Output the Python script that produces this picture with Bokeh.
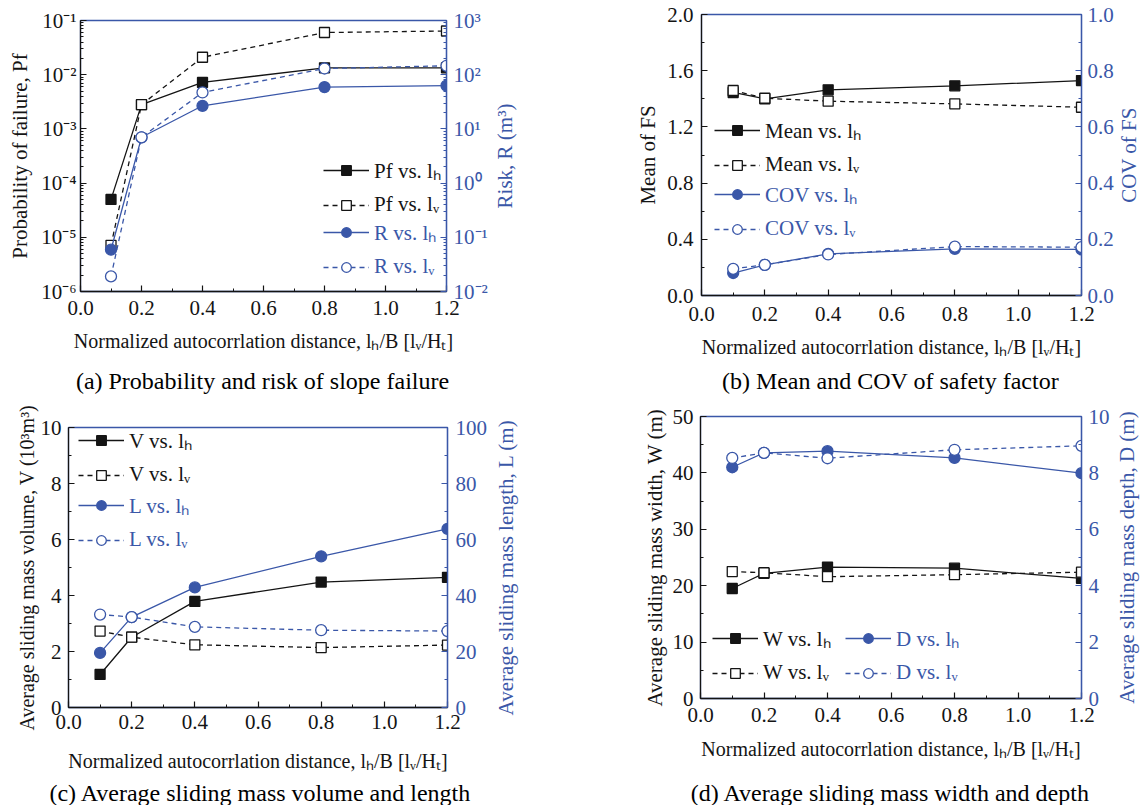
import math
from bokeh.plotting import figure
from bokeh.models import (Range1d, LinearAxis, LogAxis, LogScale, FixedTicker, Label,
                          PrintfTickFormatter, CustomJSTickFormatter, Legend, LegendItem)
from bokeh.layouts import row, column
from bokeh.embed import file_html
from bokeh.resources import INLINE

# ---------------- data ----------------
x_vals = [0.1, 0.2, 0.4, 0.8, 1.2]

pf_lh = [5.0e-5, 2.8e-3, 7.2e-3, 1.34e-2, 1.34e-2]
pf_lv = [7.1e-6, 2.8e-3, 2.1e-2, 6.0e-2, 6.4e-2]
risk_lh = [0.059, 7.0, 26.7, 59.0, 63.0]
risk_lv = [0.019, 7.0, 47.0, 130.0, 146.0]

mean_lh = [1.445, 1.400, 1.464, 1.492, 1.530]
mean_lv = [1.459, 1.404, 1.383, 1.364, 1.340]
cov_lh = [0.080, 0.109, 0.148, 0.166, 0.164]
cov_lv = [0.095, 0.109, 0.146, 0.174, 0.172]

vol_lh = [1.18, 2.51, 3.79, 4.48, 4.65]
vol_lv = [2.73, 2.51, 2.24, 2.14, 2.23]
len_lh = [19.5, 32.3, 42.9, 54.0, 63.8]
len_lv = [33.2, 32.3, 28.8, 27.6, 27.3]

wid_lh = [19.5, 22.2, 23.3, 23.1, 21.3]
wid_lv = [22.5, 22.3, 21.6, 21.95, 22.4]
dep_lh = [8.20, 8.71, 8.77, 8.53, 7.99]
dep_lv = [8.53, 8.71, 8.52, 8.82, 8.96]

x_ticks = [0.0, 0.2, 0.4, 0.6, 0.8, 1.0, 1.2]
x_minor = [0.1, 0.3, 0.5, 0.7, 0.9, 1.1]
pf_ticks = [1e-6, 1e-5, 1e-4, 1e-3, 1e-2, 1e-1]
risk_ticks = [1e-2, 1e-1, 1e0, 1e1, 1e2, 1e3]
mean_ticks = [0.0, 0.4, 0.8, 1.2, 1.6, 2.0]
cov_ticks = [0.0, 0.2, 0.4, 0.6, 0.8, 1.0]
vol_ticks = [0, 2, 4, 6, 8, 10]
len_ticks = [0, 20, 40, 60, 80, 100]
wid_ticks = [0, 10, 20, 30, 40, 50]
dep_ticks = [0, 2, 4, 6, 8, 10]

x_label = "Normalized autocorrlation distance, lₕ/B [lᵥ/Hₜ]"

BLUE = "#3A57A8"
BLACK = "#141414"
FONT = "Liberation Serif"


def log_minor(ticks):
    out = []
    for t in ticks[:-1]:
        for m in range(2, 10):
            out.append(t * m)
    return out


def lin_minor(ticks):
    return [(ticks[i] + ticks[i + 1]) / 2 for i in range(len(ticks) - 1)]


LOG_FMT = CustomJSTickFormatter(code="""
const sup = {"-":"\u207b","0":"\u2070","1":"\u00b9","2":"\u00b2","3":"\u00b3","4":"\u2074",
             "5":"\u2075","6":"\u2076","7":"\u2077","8":"\u2078","9":"\u2079"};
const e = Math.round(Math.log10(tick));
return "10" + String(e).split("").map(c => sup[c]).join("");
""")


def style_axis(ax, color, ticks, minor, fmt, label, standoff, label_standoff, lsize="21px"):
    ax.ticker = FixedTicker(ticks=ticks, minor_ticks=minor)
    ax.formatter = fmt
    ax.axis_label = label
    ax.axis_line_color = color
    ax.axis_line_width = 1.3
    ax.major_tick_line_color = color
    ax.minor_tick_line_color = color
    ax.major_tick_line_width = 1.2
    ax.minor_tick_line_width = 1.0
    ax.major_tick_in = 6
    ax.major_tick_out = 0
    ax.minor_tick_in = 3
    ax.minor_tick_out = 0
    ax.major_label_text_color = color
    ax.axis_label_text_color = color
    ax.major_label_text_font = FONT
    ax.axis_label_text_font = FONT
    ax.major_label_text_font_size = "21px"
    ax.axis_label_text_font_size = lsize
    ax.axis_label_text_font_style = "normal"
    ax.major_label_standoff = standoff
    ax.axis_label_standoff = label_standoff


def make_fig(w, h, bl, br, bt, bb, yr, ylog=False):
    p = figure(width=w, height=h, x_range=Range1d(0, 1.2), y_range=yr,
               y_axis_type="log" if ylog else "linear", title=None,
               output_backend="svg", toolbar_location=None,
               min_border_left=bl, min_border_right=br,
               min_border_top=bt, min_border_bottom=bb)
    p.xgrid.visible = False
    p.ygrid.visible = False
    p.outline_line_color = BLUE
    p.outline_line_width = 1.3
    return p


def text_strip(w, h, texts):
    """A borderless figure that only carries text (side labels / captions)."""
    s = figure(width=w, height=h, x_range=Range1d(0, w), y_range=Range1d(0, h), title=None,
               x_axis_location=None, y_axis_location=None,
               output_backend="svg", toolbar_location=None,
               min_border_left=0, min_border_right=0, min_border_top=0, min_border_bottom=0)
    s.xgrid.visible = False
    s.ygrid.visible = False
    s.outline_line_color = None
    for t in texts:
        s.add_layout(t)
    return s


def side_text(text, x, y, size="21px"):
    return Label(x=x, y=y, text=text, angle=math.pi / 2, text_align="center",
                 text_baseline="middle", text_font=FONT, text_font_size=size,
                 text_color=BLUE)


def caption_text(text, x, y):
    return Label(x=x, y=y, text=text, text_align="center", text_baseline="middle",
                 text_font=FONT, text_font_size="24px", text_color="black")


def series(p, xs, ys, color, marker, filled, dashed, yname=None):
    kw = {} if yname is None else {"y_range_name": yname}
    ln = p.line(xs, ys, line_color=color, line_width=1.3,
                line_dash="5 4" if dashed else "solid", **kw)
    size = 10 if marker == "square" else 11
    sc = p.scatter(xs, ys, marker=marker, size=size, line_color=color, line_width=1.3,
                   fill_color=color if filled else "white", **kw)
    return [ln, sc]


def add_legend(p, items, loc, color):
    lg = Legend(items=[LegendItem(label=t, renderers=r) for t, r in items],
                location=loc, orientation="vertical",
                background_fill_alpha=0, border_line_color=None,
                label_text_font=FONT, label_text_font_size="21px", label_text_color=color,
                glyph_width=46, glyph_height=24, label_height=24, spacing=8,
                padding=0, margin=0, label_standoff=5)
    p.add_layout(lg)


def xaxis_style(p, standoff, label_standoff):
    style_axis(p.xaxis[0], BLACK, x_ticks, x_minor, PrintfTickFormatter(format="%.1f"),
               x_label, standoff, label_standoff, "20px")


# ---------------- (a) ----------------
pa = make_fig(490, 362, 80, 42, 20, 71, Range1d(1e-6, 1e-1), ylog=True)
pa.extra_y_ranges = {"r": Range1d(1e-2, 1e3)}
pa.extra_y_scales = {"r": LogScale()}
ra = LogAxis(y_range_name="r")
pa.add_layout(ra, "right")
xaxis_style(pa, 9, 12)
style_axis(pa.yaxis[0], BLACK, pf_ticks, log_minor(pf_ticks), LOG_FMT,
           "Probability of failure, Pf", 4, 6)
style_axis(ra, BLUE, risk_ticks, log_minor(risk_ticks), LOG_FMT, "", 7, 0)
a1 = series(pa, x_vals, pf_lh, BLACK, "square", True, False)
a2 = series(pa, x_vals, pf_lv, BLACK, "square", False, True)
a3 = series(pa, x_vals, risk_lh, BLUE, "circle", True, False, "r")
a4 = series(pa, x_vals, risk_lv, BLUE, "circle", False, True, "r")
add_legend(pa, [("Pf vs. lₕ", a1), ("Pf vs. lᵥ", a2)], (243, 74), BLACK)
add_legend(pa, [("R vs. lₕ", a3), ("R vs. lᵥ", a4)], (243, 12), BLUE)
sa = text_strip(85, 362, [side_text("Risk, R (m³)", 14, 206.5)])

# ---------------- (b) ----------------
pb = make_fig(541, 362, 126, 34, 14, 67, Range1d(0, 2.0))
pb.extra_y_ranges = {"r": Range1d(0, 1.0)}
rb = LinearAxis(y_range_name="r")
pb.add_layout(rb, "right")
xaxis_style(pb, 11, 12)
style_axis(pb.yaxis[0], BLACK, mean_ticks, lin_minor(mean_ticks),
           PrintfTickFormatter(format="%.1f"), "Mean of FS", 8, 4)
style_axis(rb, BLUE, cov_ticks, lin_minor(cov_ticks),
           PrintfTickFormatter(format="%.1f"), "", 6, 0)
b1 = series(pb, x_vals, mean_lh, BLACK, "square", True, False)
b2 = series(pb, x_vals, mean_lv, BLACK, "square", False, True)
b3 = series(pb, x_vals, cov_lh, BLUE, "circle", True, False, "r")
b4 = series(pb, x_vals, cov_lv, BLUE, "circle", False, True, "r")
add_legend(pb, [("Mean vs. lₕ", b1), ("Mean vs. lᵥ", b2)], (13, 118), BLACK)
add_legend(pb, [("COV vs. lₕ", b3), ("COV vs. lᵥ", b4)], (13, 54), BLUE)
sb = text_strip(25, 362, [side_text("COV of FS", 12.5, 207.5)])

cap1 = text_strip(575, 33, [caption_text("(a) Probability and risk of slope failure", 262, 15)])
cap2 = text_strip(566, 33, [caption_text("(b) Mean and COV of safety factor", 315, 15)])

# ---------------- (c) ----------------
pc = make_fig(490, 380, 68, 41, 32, 68, Range1d(0, 10))
pc.extra_y_ranges = {"r": Range1d(0, 100)}
rc = LinearAxis(y_range_name="r")
pc.add_layout(rc, "right")
xaxis_style(pc, 7, 18)
style_axis(pc.yaxis[0], BLACK, vol_ticks, lin_minor(vol_ticks),
           PrintfTickFormatter(format="%d"), "Average sliding mass volume, V (10³m³)", 7, 0,
           "20px")
style_axis(rc, BLUE, len_ticks, lin_minor(len_ticks),
           PrintfTickFormatter(format="%d"), "", 8, 0)
c1 = series(pc, x_vals, vol_lh, BLACK, "square", True, False)
c2 = series(pc, x_vals, vol_lv, BLACK, "square", False, True)
c3 = series(pc, x_vals, len_lh, BLUE, "circle", True, False, "r")
c4 = series(pc, x_vals, len_lv, BLUE, "circle", False, True, "r")
add_legend(pc, [("V vs. lₕ", c1), ("V vs. lᵥ", c2)], (10, 220), BLACK)
add_legend(pc, [("L vs. lₕ", c3), ("L vs. lᵥ", c4)], (10, 155), BLUE)
sc = text_strip(85, 380, [side_text("Average sliding mass length, L (m)", 15, 208)])

# ---------------- (d) ----------------
pd_ = make_fig(537, 380, 125, 30, 21, 77, Range1d(0, 50))
pd_.extra_y_ranges = {"r": Range1d(0, 10)}
rd = LinearAxis(y_range_name="r")
pd_.add_layout(rd, "right")
xaxis_style(pd_, 9, 13)
style_axis(pd_.yaxis[0], BLACK, wid_ticks, lin_minor(wid_ticks),
           PrintfTickFormatter(format="%d"), "Average sliding mass width, W (m)", 7, 3)
style_axis(rd, BLUE, dep_ticks, lin_minor(dep_ticks),
           PrintfTickFormatter(format="%d"), "", 7, 0)
d1 = series(pd_, x_vals, wid_lh, BLACK, "square", True, False)
d2 = series(pd_, x_vals, wid_lv, BLACK, "square", False, True)
d3 = series(pd_, x_vals, dep_lh, BLUE, "circle", True, False, "r")
d4 = series(pd_, x_vals, dep_lv, BLUE, "circle", False, True, "r")
add_legend(pd_, [("W vs. lₕ", d1), ("W vs. lᵥ", d2)], (12, 13), BLACK)
add_legend(pd_, [("D vs. lₕ", d3), ("D vs. lᵥ", d4)], (145, 13), BLUE)
sd = text_strip(29, 380, [side_text("Average sliding mass depth, D (m)", 14.5, 218)])

cap3 = text_strip(575, 30, [caption_text("(c) Average sliding mass volume and length", 260, 13)])
cap4 = text_strip(566, 30, [caption_text("(d) Average sliding mass width and depth", 315, 13)])

layout = column(
    row(column(pa), column(sa), column(pb), column(sb)),
    row(cap1, cap2),
    row(column(pc), column(sc), column(pd_), column(sd)),
    row(cap3, cap4),
)

with open("out.html", "w", encoding="utf-8") as f:
    f.write(file_html(layout, INLINE))
